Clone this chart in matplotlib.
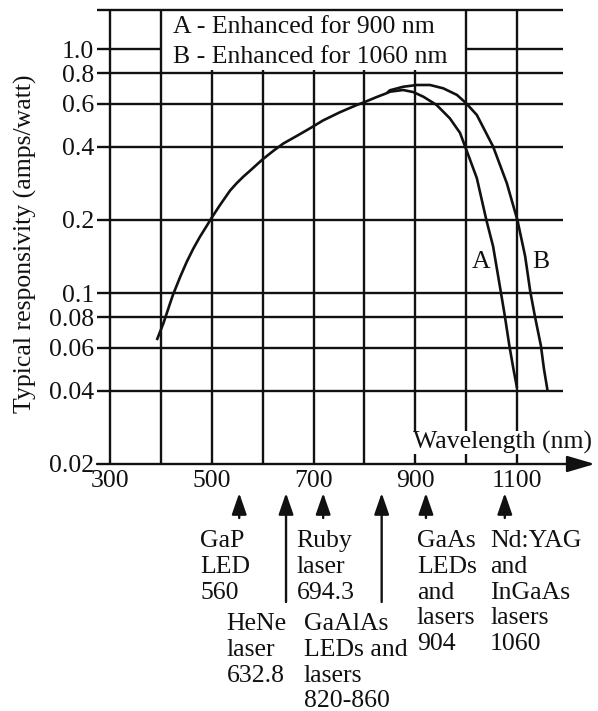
import matplotlib
matplotlib.use("Agg")
import matplotlib.pyplot as plt
from matplotlib.patches import FancyArrowPatch
from matplotlib.ticker import NullLocator
from matplotlib.transforms import blended_transform_factory

plt.rcParams["font.family"] = ["Liberation Serif", "DejaVu Serif"]

# responsivity: shared part, then the two variants
common_nm = [392, 405, 418, 424, 438, 451, 464, 477, 490, 499, 516, 536, 549, 562, 575, 599,
             621, 641, 667, 693, 719, 752, 785, 799, 824, 844]
common_r = [0.0644, 0.0755, 0.091, 0.099, 0.117, 0.135, 0.153, 0.171, 0.189, 0.203, 0.230,
            0.264, 0.283, 0.301, 0.318, 0.353, 0.384, 0.412, 0.442, 0.475, 0.512, 0.553,
            0.592, 0.607, 0.638, 0.662]
a_nm = [844, 850, 876, 896, 916, 942, 968, 988, 1001, 1021, 1040, 1053, 1068, 1076, 1085, 1093, 1100]
a_r = [0.662, 0.671, 0.682, 0.669, 0.640, 0.592, 0.522, 0.455, 0.385, 0.297, 0.199, 0.156,
       0.102, 0.081, 0.061, 0.049, 0.041]
b_nm = [844, 850, 876, 903, 929, 955, 982, 1000, 1021, 1053, 1080, 1101, 1116, 1126, 1135, 1147, 1153, 1160]
b_r = [0.662, 0.68, 0.703, 0.715, 0.715, 0.693, 0.651, 0.602, 0.539, 0.40, 0.283, 0.199,
       0.142, 0.102, 0.081, 0.061, 0.049, 0.040]

x_grid = [300, 400, 500, 600, 700, 800, 900, 1000, 1100]
x_labels = ["300", "500", "700", "900", "1100"]
y_grid = [0.02, 0.04, 0.06, 0.08, 0.1, 0.2, 0.4, 0.6, 0.8, 1.0]
y_labels = ["0.02", "0.04", "0.06", "0.08", "0.1", "0.2", "0.4", "0.6", "0.8", "1.0"]

legend_lines = ["A - Enhanced for 900 nm", "B - Enhanced for 1060 nm"]

# sources marked under the axis: arrow position (nm), long arrow?, label lines, text left (nm)
src_arrow_at = [554, 646, 719, 834, 921, 1076]
src_long = [False, True, False, True, False, False]
src_text_x = [477, 529, 667, 681, 903, 1047]
src_lines = [
    ["GaP", "LED", "560"],
    ["HeNe", "laser", "632.8"],
    ["Ruby", "laser", "694.3"],
    ["GaAlAs", "LEDs and", "lasers", "820-860"],
    ["GaAs", "LEDs", "and", "lasers", "904"],
    ["Nd:YAG", "and", "InGaAs", "lasers", "1060"],
]

W, H = 598, 711
INK = "#111111"
FS = 18.5
LW = 1.7
X_LO, X_HI = 274.45, 1190.4
Y_LO, Y_HI = 0.02, 1.451
LEGEND_SPAN = (400, 1000)
LEGEND_FLOOR = 0.824


def fy(px):
    return 1 - px / H


fig = plt.figure(figsize=(W / 100, H / 100), dpi=100)
ax = fig.add_axes([97 / W, fy(464), 466 / W, 454 / H])
ax.set_yscale("log")
ax.set_xlim(X_LO, X_HI)
ax.set_ylim(Y_LO, Y_HI)
ax.yaxis.set_minor_locator(NullLocator())
for s in ax.spines.values():
    s.set_visible(False)

# grid
for y in y_grid[1:]:
    if y == 1.0:
        ax.hlines(y, X_LO, LEGEND_SPAN[0], color=INK, lw=LW, clip_on=False)
        ax.hlines(y, LEGEND_SPAN[1], X_HI, color=INK, lw=LW, clip_on=False)
    else:
        ax.hlines(y, X_LO, X_HI, color=INK, lw=LW, clip_on=False)
ax.hlines(Y_HI, X_LO, X_HI, color=INK, lw=LW, clip_on=False)
for x in x_grid:
    top = LEGEND_FLOOR if LEGEND_SPAN[0] < x < LEGEND_SPAN[1] else Y_HI
    ax.vlines(x, Y_LO, top, color=INK, lw=LW, clip_on=False)

# x axis with arrow
ax.add_patch(FancyArrowPatch((X_LO, Y_LO), (1253, Y_LO),
                             arrowstyle="-|>,head_length=17,head_width=5",
                             mutation_scale=1, shrinkA=0, shrinkB=0,
                             color=INK, lw=LW, clip_on=False))

# curves
for xs, ys in [(common_nm, common_r), (a_nm, a_r), (b_nm, b_r)]:
    ax.plot(xs, ys, color=INK, lw=1.9, solid_capstyle="butt",
            solid_joinstyle="round", zorder=4)
ax.text(1029, 0.1345, "A", fontsize=FS, ha="center", va="center", color=INK)
ax.text(1147, 0.1345, "B", fontsize=FS, ha="center", va="center", color=INK)

ax.text(424, 1.236, legend_lines[0], fontsize=FS, ha="left", va="center", color=INK)
ax.text(424, 0.931, legend_lines[1], fontsize=FS, ha="left", va="center", color=INK)

ax.text(895.6, 0.0244, "Wavelength (nm)", fontsize=FS, ha="left", va="center", color=INK,
        bbox=dict(facecolor="white", edgecolor="none", pad=0), zorder=5)

ax.set_xticks([int(t) for t in x_labels], x_labels)
ax.set_yticks(y_grid, y_labels)
ax.tick_params(length=0, labelsize=FS, colors=INK)
ax.tick_params(axis="x", pad=4)
ax.tick_params(axis="y", pad=2)

fig.text(25 / W, fy(244), "Typical responsivity (amps/watt)", rotation=90,
         fontsize=FS, ha="center", va="center", color=INK)

# source markers below the axis
tr = blended_transform_factory(ax.transData, fig.transFigure)
for x, long_ in zip(src_arrow_at, src_long):
    tail = 602 if long_ else 518
    ax.add_patch(FancyArrowPatch((x, fy(tail)), (x, fy(493)), transform=tr,
                                 arrowstyle="-|>,head_length=13,head_width=4.5",
                                 mutation_scale=1, shrinkA=0, shrinkB=0,
                                 color=INK, lw=LW, clip_on=False))
for x, long_, lines in zip(src_text_x, src_long, src_lines):
    base = 630 if long_ else 547
    for i, line in enumerate(lines):
        ax.text(x, fy(base + i * 25.8), line, transform=tr, fontsize=FS,
                ha="left", va="baseline", color=INK)

fig.savefig("out.png", dpi=100)
